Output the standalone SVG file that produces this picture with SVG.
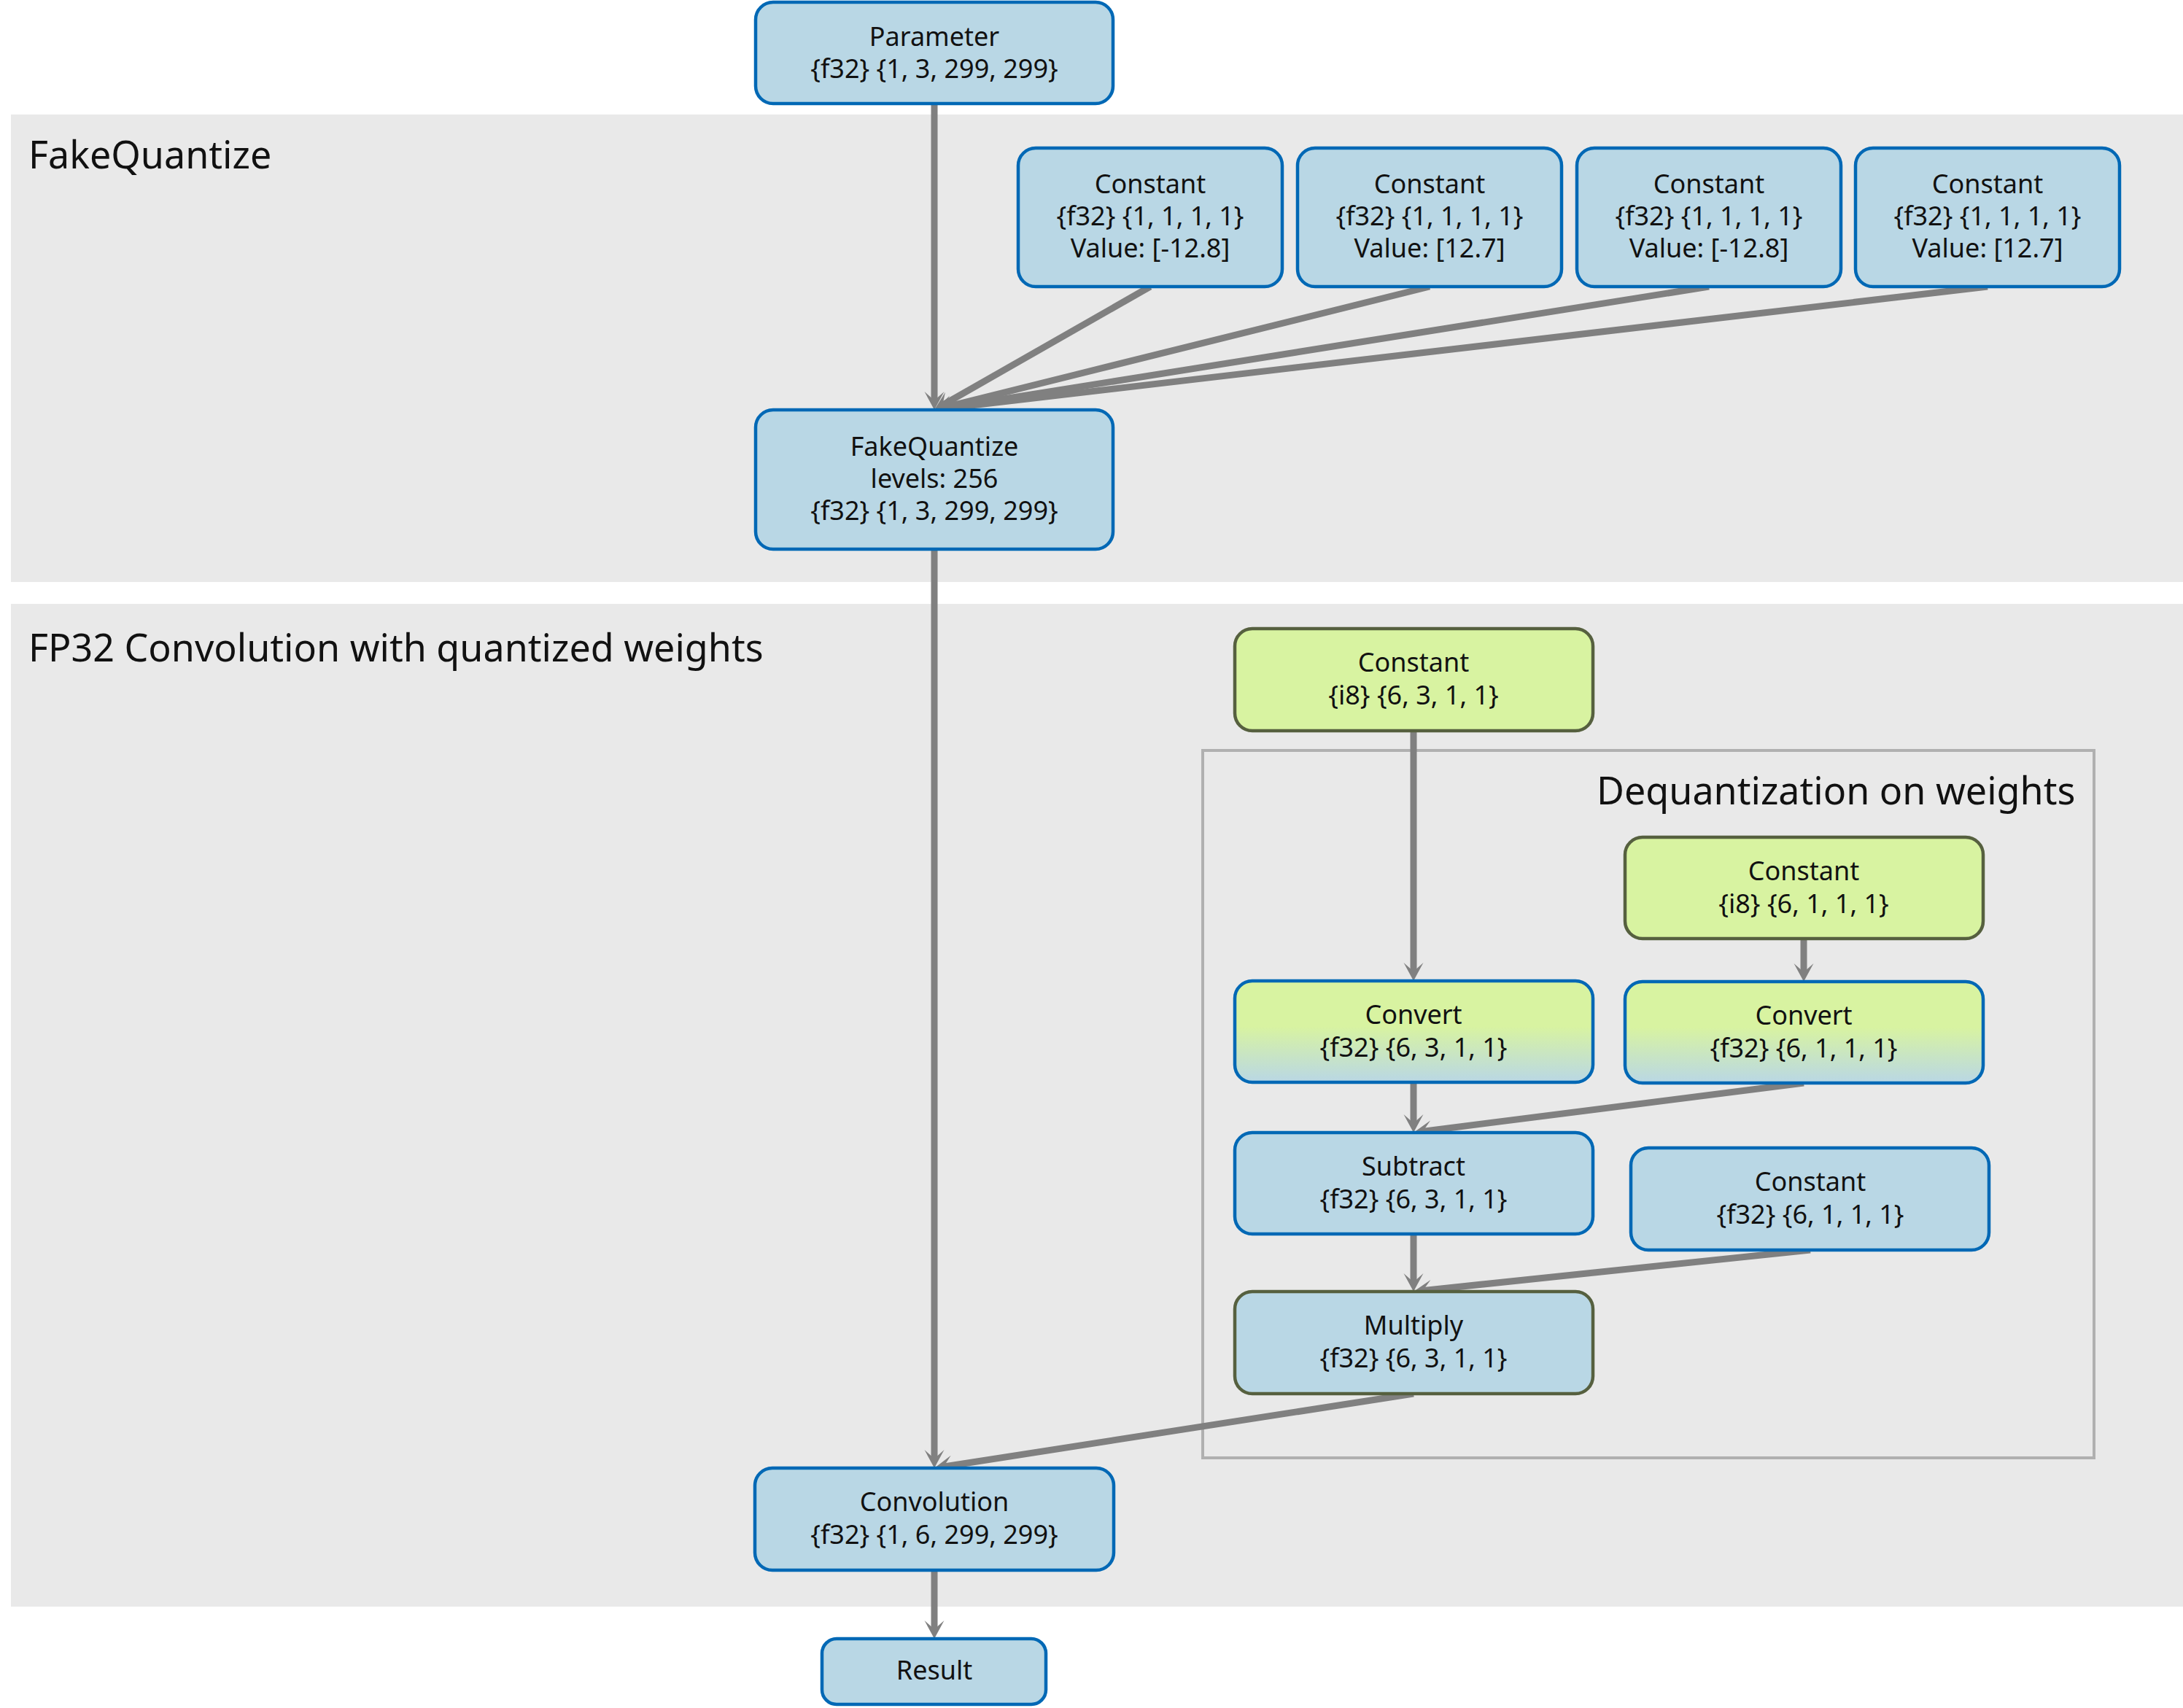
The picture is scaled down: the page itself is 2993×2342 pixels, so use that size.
<svg xmlns="http://www.w3.org/2000/svg" width="2993" height="2342" viewBox="0 0 2993 2342">
<style>
.grp{fill:#e9e9e9;}
.title{font-family:"Noto Sans","Open Sans","DejaVu Sans",sans-serif;font-size:52px;fill:#111;}
.lbl{font-family:"Noto Sans","Open Sans","DejaVu Sans",sans-serif;font-size:36px;fill:#111;text-anchor:middle;}
.nb{fill:#b9d7e5;stroke:#0068b5;stroke-width:4.5;}
.ng{fill:#d8f3a1;stroke:#56603f;stroke-width:4.5;}
.nc{fill:url(#cvt);stroke:#0068b5;stroke-width:4.5;}
.nm{fill:#b9d7e5;stroke:#56603f;stroke-width:4.5;}
.edge{stroke:#808080;stroke-width:9;fill:none;marker-end:url(#ah);}
</style>
<defs>
<linearGradient id="cvt" x1="0" y1="0" x2="0" y2="1">
<stop offset="0" stop-color="#d8f3a1"/>
<stop offset="0.45" stop-color="#d8f3a1"/>
<stop offset="1" stop-color="#b9d7e5"/>
</linearGradient>
<marker id="ah" markerUnits="userSpaceOnUse" markerWidth="40" markerHeight="40" viewBox="-20 -20 40 40" refX="0" refY="0" orient="auto" overflow="visible">
<path d="M12,0 L-13,-13.5 L-1,0 L-13,13.5 Z" fill="#808080"/>
</marker>
</defs>
<rect width="2993" height="2342" fill="#ffffff"/>
<g id="group-fakequantize">
<rect class="grp" x="15" y="157" width="2978" height="641"/>
<text class="title" x="39" y="231">FakeQuantize</text>
</g>
<g id="group-fp32">
<rect class="grp" x="15" y="828" width="2978" height="1375"/>
<text class="title" x="39" y="907">FP32 Convolution with quantized weights</text>
</g>
<g id="group-dequant">
<rect x="1649" y="1029" width="1222" height="970" fill="none" stroke="#b0b0b0" stroke-width="4"/>
<text class="title" x="2189" y="1103">Dequantization on weights</text>
</g>
<g id="connectors">
<line class="edge" x1="1281" y1="142" x2="1281" y2="550"/>
<line class="edge" x1="1577" y1="393" x2="1291.4" y2="556.0"/>
<line class="edge" x1="1960" y1="393" x2="1292.6" y2="559.1"/>
<line class="edge" x1="2343" y1="393" x2="1292.9" y2="560.1"/>
<line class="edge" x1="2725" y1="393" x2="1292.9" y2="560.6"/>
<line class="edge" x1="1281" y1="753" x2="1281" y2="2001"/>
<line class="edge" x1="1938" y1="1002" x2="1938" y2="1333"/>
<line class="edge" x1="2473" y1="1287" x2="2473" y2="1334"/>
<line class="edge" x1="1938" y1="1484" x2="1938" y2="1541"/>
<line class="edge" x1="2473" y1="1485" x2="1949.9" y2="1551.5"/>
<line class="edge" x1="1938" y1="1692" x2="1938" y2="1759"/>
<line class="edge" x1="2482" y1="1714" x2="1949.9" y2="1769.7"/>
<line class="edge" x1="1938" y1="1911" x2="1292.9" y2="2011.2"/>
<line class="edge" x1="1281" y1="2153" x2="1281" y2="2235"/>
</g>
<g id="node-parameter">
<rect class="nb" x="1036" y="3" width="490" height="139" rx="24"/>
<text class="lbl" x="1281" y="63">Parameter<tspan x="1281" dy="44">{f32} {1, 3, 299, 299}</tspan></text>
</g>
<g id="node-const1">
<rect class="nb" x="1396" y="203" width="362" height="190" rx="24"/>
<text class="lbl" x="1577" y="265">Constant<tspan x="1577" dy="44">{f32} {1, 1, 1, 1}</tspan><tspan x="1577" dy="44">Value: [-12.8]</tspan></text>
</g>
<g id="node-const2">
<rect class="nb" x="1779" y="203" width="362" height="190" rx="24"/>
<text class="lbl" x="1960" y="265">Constant<tspan x="1960" dy="44">{f32} {1, 1, 1, 1}</tspan><tspan x="1960" dy="44">Value: [12.7]</tspan></text>
</g>
<g id="node-const3">
<rect class="nb" x="2162" y="203" width="362" height="190" rx="24"/>
<text class="lbl" x="2343" y="265">Constant<tspan x="2343" dy="44">{f32} {1, 1, 1, 1}</tspan><tspan x="2343" dy="44">Value: [-12.8]</tspan></text>
</g>
<g id="node-const4">
<rect class="nb" x="2544" y="203" width="362" height="190" rx="24"/>
<text class="lbl" x="2725" y="265">Constant<tspan x="2725" dy="44">{f32} {1, 1, 1, 1}</tspan><tspan x="2725" dy="44">Value: [12.7]</tspan></text>
</g>
<g id="node-fakequantize">
<rect class="nb" x="1036" y="562" width="490" height="191" rx="24"/>
<text class="lbl" x="1281" y="625">FakeQuantize<tspan x="1281" dy="44">levels: 256</tspan><tspan x="1281" dy="44">{f32} {1, 3, 299, 299}</tspan></text>
</g>
<g id="node-const-i8-weights">
<rect class="ng" x="1693" y="862" width="491" height="140" rx="24"/>
<text class="lbl" x="1938" y="921">Constant<tspan x="1938" dy="45">{i8} {6, 3, 1, 1}</tspan></text>
</g>
<g id="node-const-i8-zp">
<rect class="ng" x="2228" y="1148" width="491" height="139" rx="24"/>
<text class="lbl" x="2473" y="1207">Constant<tspan x="2473" dy="45">{i8} {6, 1, 1, 1}</tspan></text>
</g>
<g id="node-convert-left">
<rect class="nc" x="1693" y="1345" width="491" height="139" rx="24"/>
<text class="lbl" x="1938" y="1404">Convert<tspan x="1938" dy="45">{f32} {6, 3, 1, 1}</tspan></text>
</g>
<g id="node-convert-right">
<rect class="nc" x="2228" y="1346" width="491" height="139" rx="24"/>
<text class="lbl" x="2473" y="1405">Convert<tspan x="2473" dy="45">{f32} {6, 1, 1, 1}</tspan></text>
</g>
<g id="node-subtract">
<rect class="nb" x="1693" y="1553" width="491" height="139" rx="24"/>
<text class="lbl" x="1938" y="1612">Subtract<tspan x="1938" dy="45">{f32} {6, 3, 1, 1}</tspan></text>
</g>
<g id="node-const-f32-scale">
<rect class="nb" x="2236" y="1574" width="491" height="140" rx="24"/>
<text class="lbl" x="2482" y="1633">Constant<tspan x="2482" dy="45">{f32} {6, 1, 1, 1}</tspan></text>
</g>
<g id="node-multiply">
<rect class="nm" x="1693" y="1771" width="491" height="140" rx="24"/>
<text class="lbl" x="1938" y="1830">Multiply<tspan x="1938" dy="45">{f32} {6, 3, 1, 1}</tspan></text>
</g>
<g id="node-convolution">
<rect class="nb" x="1035" y="2013" width="492" height="140" rx="24"/>
<text class="lbl" x="1281" y="2072">Convolution<tspan x="1281" dy="45">{f32} {1, 6, 299, 299}</tspan></text>
</g>
<g id="node-result">
<rect class="nb" x="1127" y="2247" width="307" height="90" rx="20"/>
<text class="lbl" x="1281" y="2303">Result</text>
</g>
</svg>
